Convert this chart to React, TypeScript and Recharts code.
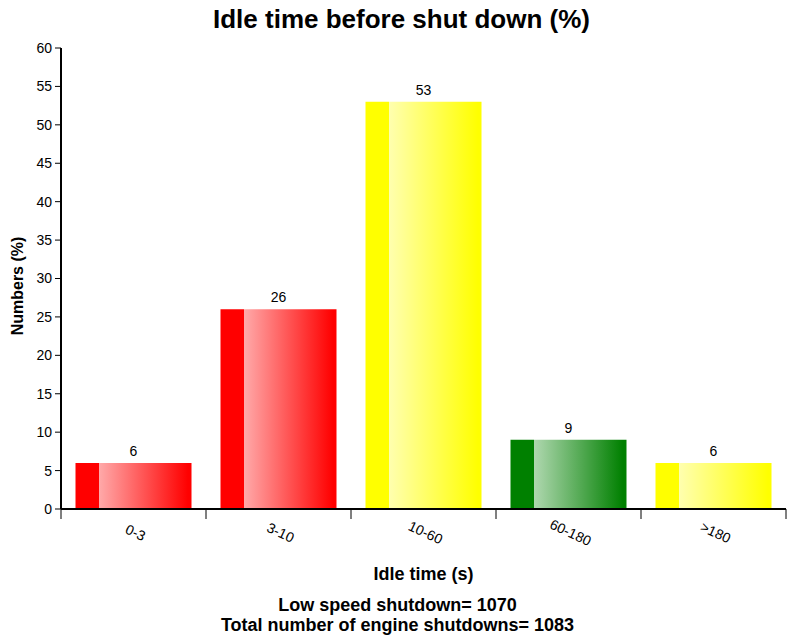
import React from 'react';
import { BarChart, Bar, XAxis, YAxis, Cell, LabelList } from 'recharts';

const categories = ['0-3', '3-10', '10-60', '60-180', '>180'];
const shares = [6, 26, 53, 9, 6];
const barColors = ['red', 'red', 'yellow', 'green', 'yellow'];
const yTicks = [0, 5, 10, 15, 20, 25, 30, 35, 40, 45, 50, 55, 60];

const palette: Record<string, { solid: string; light: string }> = {
  red: { solid: '#ff0000', light: '#ffaaaa' },
  yellow: { solid: '#ffff00', light: '#ffffb0' },
  green: { solid: '#008000', light: '#b0d8b0' },
};

const data = categories.map((name, i) => ({ name, value: shares[i], color: barColors[i] }));

const W = 787;
const H = 640;
const PLOT_LEFT = 61;
const PLOT_RIGHT = 786;
const BAND = (PLOT_RIGHT - PLOT_LEFT) / categories.length;
const font = '"Liberation Sans", Arial, sans-serif';

const XTick = (props: any) => {
  const { x, y, payload, index } = props;
  return (
    <g>
      <line x1={x - BAND / 2} x2={x - BAND / 2} y1={y} y2={y + 10} stroke="#000" strokeWidth={1} />
      {index === categories.length - 1 && (
        <line x1={x + BAND / 2} x2={x + BAND / 2} y1={y} y2={y + 10} stroke="#000" strokeWidth={1} />
      )}
      <text
        x={0}
        y={0}
        transform={`translate(${x},${y + 28}) rotate(25)`}
        textAnchor="middle"
        fontSize={14}
        fontFamily={font}
        fill="#000"
      >
        {payload.value}
      </text>
    </g>
  );
};

export default function App() {
  return (
    <div style={{ position: 'absolute', left: 0, top: 0, width: W, height: H, fontFamily: font, background: '#fff' }}>
      <div style={{ position: 'absolute', top: 4, width: W, textAlign: 'center', fontSize: 26, fontWeight: 'bold', left: 8 }}>
        Idle time before shut down (%)
      </div>
      <BarChart
        width={W}
        height={H}
        data={data}
        margin={{ top: 48, left: PLOT_LEFT - 50, right: W - PLOT_RIGHT, bottom: 101 }}
        barCategoryGap="10%"
      >
        <defs>
          {Object.keys(palette).map((k) => (
            <linearGradient key={k} id={`grad-${k}`} x1="0" y1="0" x2="1" y2="0">
              <stop offset="0%" stopColor={palette[k].solid} />
              <stop offset="20%" stopColor={palette[k].solid} />
              <stop offset="20%" stopColor={palette[k].light} />
              <stop offset="97%" stopColor={palette[k].solid} />
              <stop offset="100%" stopColor={palette[k].solid} />
            </linearGradient>
          ))}
        </defs>
        <XAxis
          dataKey="name"
          height={30}
          axisLine={{ stroke: '#000', strokeWidth: 2 }}
          tickLine={false}
          tickSize={0}
          tickMargin={0}
          tick={<XTick />}
          interval={0}
        />
        <YAxis
          width={50}
          domain={[0, 60]}
          ticks={yTicks}
          interval={0}
          axisLine={{ stroke: '#000', strokeWidth: 2 }}
          tickLine={{ stroke: '#000' }}
          tickSize={6}
          tickMargin={3}
          tick={{ fill: '#000', fontSize: 14, fontFamily: font }}
        />
        <Bar dataKey="value" isAnimationActive={false}>
          {data.map((d) => (
            <Cell key={d.name} fill={`url(#grad-${d.color})`} />
          ))}
          <LabelList dataKey="value" position="top" offset={7} fill="#000" fontSize={14} fontFamily={font} />
        </Bar>
      </BarChart>
      <div style={{ position: 'absolute', top: 564, left: PLOT_LEFT, width: PLOT_RIGHT - PLOT_LEFT, textAlign: 'center', fontSize: 18, fontWeight: 'bold' }}>
        Idle time (s)
      </div>
      <div
        style={{
          position: 'absolute',
          left: 9,
          top: 286,
          transform: 'translate(-50%, -50%) rotate(-90deg)',
          fontSize: 16,
          fontWeight: 'bold',
          whiteSpace: 'nowrap',
          marginLeft: 9,
        }}
      >
        Numbers (%)
      </div>
      <div style={{ position: 'absolute', top: 595, width: W, left: 4, textAlign: 'center', fontSize: 18, fontWeight: 'bold', lineHeight: '20px' }}>
        Low speed shutdown= 1070
        <br />
        Total number of engine shutdowns= 1083
      </div>
    </div>
  );
}
